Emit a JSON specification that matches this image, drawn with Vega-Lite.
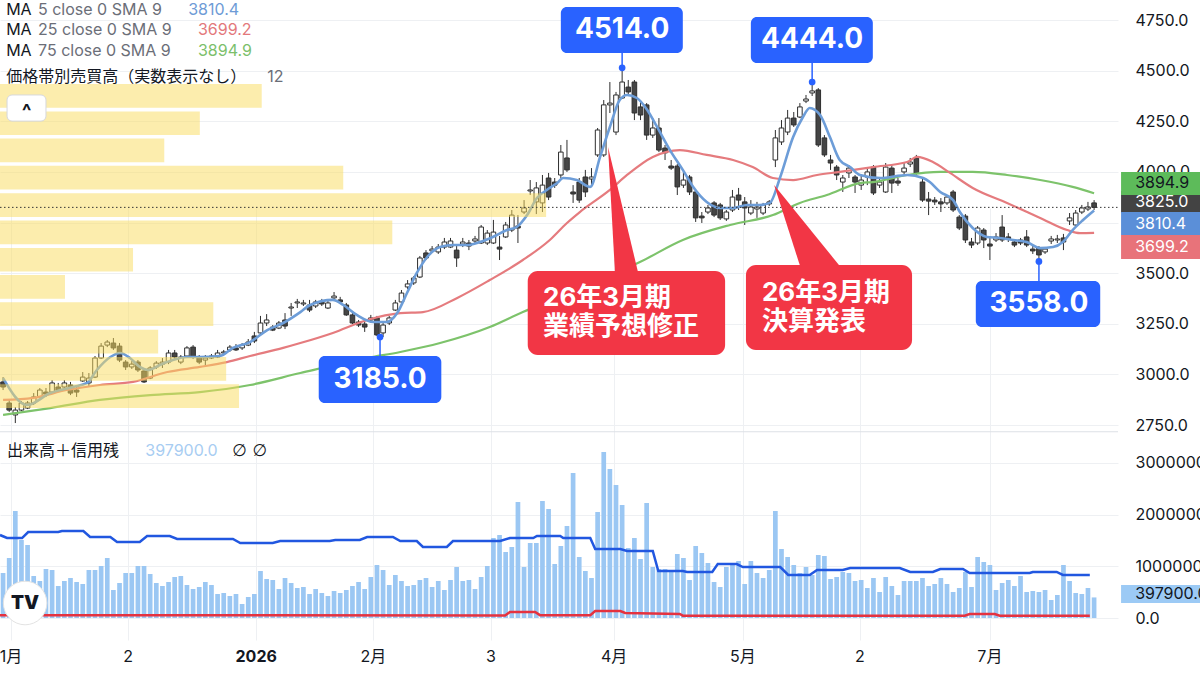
{
"$schema":"https://vega.github.io/schema/vega-lite/v6.json",
"usermeta":{"embedOptions":{"actions":false}},
"width":1118,"height":640,
"autosize":{"type":"none"},
"padding":{"left":0,"top":0,"right":82,"bottom":35},
"background":"#ffffff",
"config":{"view":{"stroke":null},"font":"Inter, 'Noto Sans CJK JP', sans-serif","scale":{"continuousPadding":0}},
"datasets":{
"c":[
{"i":0,"o":2963,"h":2987,"l":2923,"c":2938,"v":870000},
{"i":1,"o":2859,"h":2874,"l":2815,"c":2824,"v":1161000},
{"i":2,"o":2800,"h":2839,"l":2760,"c":2824,"v":2070000},
{"i":3,"o":2824,"h":2869,"l":2819,"c":2859,"v":1509000},
{"i":4,"o":2834,"h":2869,"l":2829,"c":2859,"v":1412000},
{"i":5,"o":2859,"h":2908,"l":2849,"c":2889,"v":812000},
{"i":6,"o":2889,"h":2933,"l":2884,"c":2923,"v":716000},
{"i":7,"o":2913,"h":2933,"l":2889,"c":2903,"v":948000},
{"i":8,"o":2913,"h":2972,"l":2908,"c":2958,"v":928000},
{"i":9,"o":2938,"h":2958,"l":2913,"c":2923,"v":619000},
{"i":10,"o":2938,"h":2972,"l":2928,"c":2958,"v":716000},
{"i":11,"o":2948,"h":2963,"l":2898,"c":2908,"v":774000},
{"i":12,"o":2923,"h":2938,"l":2889,"c":2913,"v":696000},
{"i":13,"o":2968,"h":3012,"l":2963,"c":2987,"v":658000},
{"i":14,"o":2958,"h":3007,"l":2943,"c":2982,"v":928000},
{"i":15,"o":2987,"h":3091,"l":2982,"c":3081,"v":928000},
{"i":16,"o":3081,"h":3155,"l":3076,"c":3140,"v":1006000},
{"i":17,"o":3145,"h":3170,"l":3135,"c":3160,"v":1161000},
{"i":18,"o":3155,"h":3180,"l":3121,"c":3131,"v":542000},
{"i":19,"o":3140,"h":3155,"l":3061,"c":3071,"v":677000},
{"i":20,"o":3061,"h":3071,"l":3022,"c":3037,"v":870000},
{"i":21,"o":3037,"h":3066,"l":3027,"c":3051,"v":870000},
{"i":22,"o":3061,"h":3071,"l":3012,"c":3022,"v":1006000},
{"i":23,"o":3017,"h":3027,"l":2958,"c":2963,"v":1006000},
{"i":24,"o":2982,"h":3041,"l":2977,"c":3032,"v":851000},
{"i":25,"o":3037,"h":3066,"l":3027,"c":3056,"v":677000},
{"i":26,"o":3051,"h":3081,"l":3032,"c":3061,"v":619000},
{"i":27,"o":3061,"h":3121,"l":3051,"c":3106,"v":696000},
{"i":28,"o":3106,"h":3121,"l":3071,"c":3086,"v":793000},
{"i":29,"o":3061,"h":3096,"l":3051,"c":3086,"v":812000},
{"i":30,"o":3091,"h":3140,"l":3081,"c":3131,"v":638000},
{"i":31,"o":3135,"h":3145,"l":3076,"c":3086,"v":561000},
{"i":32,"o":3086,"h":3096,"l":3051,"c":3061,"v":600000},
{"i":33,"o":3071,"h":3096,"l":3041,"c":3081,"v":696000},
{"i":34,"o":3081,"h":3101,"l":3076,"c":3091,"v":638000},
{"i":35,"o":3086,"h":3121,"l":3081,"c":3106,"v":464000},
{"i":36,"o":3106,"h":3121,"l":3096,"c":3111,"v":484000},
{"i":37,"o":3121,"h":3145,"l":3111,"c":3135,"v":426000},
{"i":38,"o":3131,"h":3150,"l":3116,"c":3121,"v":464000},
{"i":39,"o":3131,"h":3155,"l":3121,"c":3145,"v":271000},
{"i":40,"o":3145,"h":3175,"l":3140,"c":3160,"v":406000},
{"i":41,"o":3190,"h":3210,"l":3155,"c":3165,"v":464000},
{"i":42,"o":3205,"h":3289,"l":3195,"c":3254,"v":909000},
{"i":43,"o":3254,"h":3298,"l":3239,"c":3269,"v":754000},
{"i":44,"o":3234,"h":3244,"l":3214,"c":3219,"v":735000},
{"i":45,"o":3229,"h":3264,"l":3224,"c":3254,"v":561000},
{"i":46,"o":3269,"h":3303,"l":3224,"c":3239,"v":774000},
{"i":47,"o":3328,"h":3353,"l":3289,"c":3333,"v":677000},
{"i":48,"o":3353,"h":3373,"l":3328,"c":3358,"v":580000},
{"i":49,"o":3348,"h":3368,"l":3338,"c":3353,"v":600000},
{"i":50,"o":3343,"h":3368,"l":3308,"c":3318,"v":464000},
{"i":51,"o":3338,"h":3368,"l":3328,"c":3358,"v":561000},
{"i":52,"o":3358,"h":3373,"l":3338,"c":3348,"v":484000},
{"i":53,"o":3328,"h":3363,"l":3323,"c":3353,"v":426000},
{"i":54,"o":3378,"h":3407,"l":3368,"c":3387,"v":522000},
{"i":55,"o":3368,"h":3383,"l":3348,"c":3358,"v":484000},
{"i":56,"o":3343,"h":3353,"l":3289,"c":3294,"v":542000},
{"i":57,"o":3294,"h":3303,"l":3249,"c":3254,"v":619000},
{"i":58,"o":3259,"h":3269,"l":3234,"c":3244,"v":696000},
{"i":59,"o":3249,"h":3264,"l":3210,"c":3234,"v":561000},
{"i":60,"o":3269,"h":3294,"l":3259,"c":3279,"v":793000},
{"i":61,"o":3279,"h":3289,"l":3190,"c":3195,"v":1025000},
{"i":62,"o":3205,"h":3259,"l":3185,"c":3244,"v":928000},
{"i":63,"o":3254,"h":3289,"l":3244,"c":3279,"v":638000},
{"i":64,"o":3318,"h":3368,"l":3313,"c":3353,"v":832000},
{"i":65,"o":3358,"h":3417,"l":3353,"c":3402,"v":716000},
{"i":66,"o":3432,"h":3466,"l":3422,"c":3447,"v":619000},
{"i":67,"o":3452,"h":3486,"l":3442,"c":3476,"v":638000},
{"i":68,"o":3481,"h":3585,"l":3476,"c":3575,"v":735000},
{"i":69,"o":3600,"h":3614,"l":3565,"c":3575,"v":774000},
{"i":70,"o":3610,"h":3634,"l":3600,"c":3619,"v":600000},
{"i":71,"o":3605,"h":3644,"l":3595,"c":3629,"v":716000},
{"i":72,"o":3629,"h":3674,"l":3619,"c":3654,"v":542000},
{"i":73,"o":3629,"h":3674,"l":3624,"c":3659,"v":735000},
{"i":74,"o":3614,"h":3639,"l":3531,"c":3575,"v":986000},
{"i":75,"o":3644,"h":3674,"l":3629,"c":3654,"v":716000},
{"i":76,"o":3649,"h":3664,"l":3614,"c":3634,"v":735000},
{"i":77,"o":3659,"h":3684,"l":3649,"c":3669,"v":561000},
{"i":78,"o":3649,"h":3738,"l":3644,"c":3728,"v":793000},
{"i":79,"o":3649,"h":3713,"l":3639,"c":3698,"v":1006000},
{"i":80,"o":3649,"h":3763,"l":3644,"c":3703,"v":1547000},
{"i":81,"o":3629,"h":3684,"l":3565,"c":3619,"v":1605000},
{"i":82,"o":3679,"h":3753,"l":3674,"c":3738,"v":1277000},
{"i":83,"o":3713,"h":3812,"l":3703,"c":3787,"v":1373000},
{"i":84,"o":3733,"h":3787,"l":3649,"c":3723,"v":2244000},
{"i":85,"o":3802,"h":3861,"l":3792,"c":3822,"v":986000},
{"i":86,"o":3906,"h":3960,"l":3886,"c":3911,"v":1451000},
{"i":87,"o":3852,"h":3950,"l":3792,"c":3921,"v":1451000},
{"i":88,"o":3847,"h":3985,"l":3802,"c":3935,"v":2263000},
{"i":89,"o":3970,"h":3995,"l":3861,"c":3876,"v":2108000},
{"i":90,"o":3950,"h":3970,"l":3921,"c":3935,"v":1044000},
{"i":91,"o":3985,"h":4133,"l":3970,"c":4098,"v":1393000},
{"i":92,"o":4069,"h":4158,"l":4000,"c":4010,"v":1779000},
{"i":93,"o":3901,"h":3935,"l":3847,"c":3891,"v":2805000},
{"i":94,"o":3950,"h":3970,"l":3847,"c":3861,"v":1180000},
{"i":95,"o":3975,"h":4010,"l":3876,"c":3901,"v":909000},
{"i":96,"o":3965,"h":4019,"l":3935,"c":3975,"v":774000},
{"i":97,"o":4084,"h":4217,"l":4074,"c":4207,"v":2050000},
{"i":98,"o":4084,"h":4355,"l":4074,"c":4331,"v":3211000},
{"i":99,"o":4331,"h":4444,"l":4291,"c":4340,"v":2882000},
{"i":100,"o":4197,"h":4395,"l":4182,"c":4380,"v":2572000},
{"i":101,"o":4365,"h":4513,"l":4360,"c":4444,"v":2186000},
{"i":102,"o":4419,"h":4454,"l":4380,"c":4395,"v":1354000},
{"i":103,"o":4444,"h":4454,"l":4256,"c":4291,"v":1547000},
{"i":104,"o":4321,"h":4355,"l":4256,"c":4281,"v":1141000},
{"i":105,"o":4331,"h":4340,"l":4158,"c":4182,"v":2224000},
{"i":106,"o":4182,"h":4266,"l":4168,"c":4217,"v":986000},
{"i":107,"o":4217,"h":4266,"l":4098,"c":4108,"v":948000},
{"i":108,"o":4118,"h":4133,"l":4059,"c":4094,"v":948000},
{"i":109,"o":4029,"h":4059,"l":4010,"c":4019,"v":890000},
{"i":110,"o":4029,"h":4039,"l":3886,"c":3926,"v":1238000},
{"i":111,"o":3935,"h":4000,"l":3921,"c":3960,"v":1161000},
{"i":112,"o":3975,"h":3985,"l":3886,"c":3901,"v":735000},
{"i":113,"o":3901,"h":3911,"l":3753,"c":3773,"v":1393000},
{"i":114,"o":3782,"h":3802,"l":3748,"c":3773,"v":1257000},
{"i":115,"o":3802,"h":3837,"l":3792,"c":3822,"v":1064000},
{"i":116,"o":3847,"h":3856,"l":3777,"c":3787,"v":696000},
{"i":117,"o":3837,"h":3847,"l":3763,"c":3773,"v":600000},
{"i":118,"o":3768,"h":3812,"l":3758,"c":3802,"v":986000},
{"i":119,"o":3812,"h":3911,"l":3802,"c":3876,"v":1064000},
{"i":120,"o":3886,"h":3921,"l":3812,"c":3861,"v":1102000},
{"i":121,"o":3852,"h":3876,"l":3738,"c":3822,"v":658000},
{"i":122,"o":3797,"h":3861,"l":3787,"c":3827,"v":1102000},
{"i":123,"o":3817,"h":3852,"l":3773,"c":3827,"v":870000},
{"i":124,"o":3797,"h":3847,"l":3787,"c":3837,"v":774000},
{"i":125,"o":3842,"h":3861,"l":3832,"c":3852,"v":928000},
{"i":126,"o":4059,"h":4207,"l":4024,"c":4168,"v":2070000},
{"i":127,"o":4148,"h":4256,"l":4133,"c":4217,"v":1335000},
{"i":128,"o":4197,"h":4306,"l":4182,"c":4266,"v":1180000},
{"i":129,"o":4266,"h":4296,"l":4222,"c":4232,"v":1025000},
{"i":130,"o":4271,"h":4340,"l":4266,"c":4321,"v":870000},
{"i":131,"o":4350,"h":4380,"l":4340,"c":4360,"v":986000},
{"i":132,"o":4390,"h":4444,"l":4375,"c":4400,"v":832000},
{"i":133,"o":4405,"h":4414,"l":4123,"c":4133,"v":1219000},
{"i":134,"o":4168,"h":4182,"l":4074,"c":4084,"v":1199000},
{"i":135,"o":4059,"h":4084,"l":4010,"c":4044,"v":754000},
{"i":136,"o":4024,"h":4034,"l":3960,"c":3985,"v":793000},
{"i":137,"o":3950,"h":3985,"l":3901,"c":3970,"v":890000},
{"i":138,"o":3995,"h":4034,"l":3970,"c":4019,"v":870000},
{"i":139,"o":3975,"h":3985,"l":3896,"c":3950,"v":716000},
{"i":140,"o":3935,"h":3985,"l":3911,"c":3960,"v":735000},
{"i":141,"o":3975,"h":4019,"l":3935,"c":4000,"v":580000},
{"i":142,"o":4024,"h":4034,"l":3886,"c":3896,"v":774000},
{"i":143,"o":3935,"h":3970,"l":3921,"c":3950,"v":503000},
{"i":144,"o":3901,"h":4044,"l":3896,"c":4024,"v":793000},
{"i":145,"o":4019,"h":4034,"l":3896,"c":3945,"v":619000},
{"i":146,"o":3955,"h":3970,"l":3931,"c":3945,"v":445000},
{"i":147,"o":4000,"h":4044,"l":3985,"c":4019,"v":716000},
{"i":148,"o":4039,"h":4069,"l":4024,"c":4049,"v":716000},
{"i":149,"o":4069,"h":4084,"l":3985,"c":3995,"v":716000},
{"i":150,"o":3950,"h":3970,"l":3852,"c":3861,"v":774000},
{"i":151,"o":3866,"h":3901,"l":3787,"c":3856,"v":619000},
{"i":152,"o":3861,"h":3876,"l":3837,"c":3852,"v":658000},
{"i":153,"o":3852,"h":3871,"l":3802,"c":3842,"v":774000},
{"i":154,"o":3847,"h":3886,"l":3837,"c":3876,"v":658000},
{"i":155,"o":3901,"h":3911,"l":3802,"c":3812,"v":503000},
{"i":156,"o":3777,"h":3787,"l":3713,"c":3723,"v":580000},
{"i":157,"o":3782,"h":3792,"l":3649,"c":3664,"v":890000},
{"i":158,"o":3654,"h":3674,"l":3624,"c":3639,"v":600000},
{"i":159,"o":3649,"h":3733,"l":3639,"c":3723,"v":1180000},
{"i":160,"o":3713,"h":3723,"l":3624,"c":3664,"v":1083000},
{"i":161,"o":3644,"h":3674,"l":3565,"c":3634,"v":1025000},
{"i":162,"o":3664,"h":3698,"l":3654,"c":3679,"v":542000},
{"i":163,"o":3728,"h":3787,"l":3654,"c":3664,"v":677000},
{"i":164,"o":3679,"h":3698,"l":3654,"c":3669,"v":735000},
{"i":165,"o":3654,"h":3664,"l":3629,"c":3639,"v":619000},
{"i":166,"o":3664,"h":3674,"l":3639,"c":3649,"v":812000},
{"i":167,"o":3679,"h":3713,"l":3629,"c":3639,"v":503000},
{"i":168,"o":3619,"h":3634,"l":3595,"c":3610,"v":522000},
{"i":169,"o":3624,"h":3634,"l":3558,"c":3590,"v":503000},
{"i":170,"o":3605,"h":3629,"l":3595,"c":3619,"v":542000},
{"i":171,"o":3659,"h":3684,"l":3644,"c":3669,"v":348000},
{"i":172,"o":3664,"h":3689,"l":3649,"c":3669,"v":445000},
{"i":173,"o":3674,"h":3694,"l":3614,"c":3654,"v":1025000},
{"i":174,"o":3758,"h":3797,"l":3738,"c":3773,"v":716000},
{"i":175,"o":3738,"h":3812,"l":3728,"c":3797,"v":484000},
{"i":176,"o":3802,"h":3837,"l":3792,"c":3822,"v":464000},
{"i":177,"o":3817,"h":3852,"l":3807,"c":3827,"v":580000},
{"i":178,"o":3847,"h":3861,"l":3812,"c":3825,"v":397900}
],
"ma5":[{"i":0,"v":2982},{"i":3.9,"v":2849},{"i":7.7,"v":2908},{"i":11.4,"v":2938},{"i":13.7,"v":2958},{"i":15.3,"v":3022},{"i":17.5,"v":3086},{"i":19.1,"v":3106},{"i":20.7,"v":3081},{"i":22.3,"v":3037},{"i":23.7,"v":3022},{"i":25.6,"v":3047},{"i":27.7,"v":3071},{"i":30,"v":3086},{"i":32.1,"v":3086},{"i":35.4,"v":3091},{"i":37.5,"v":3131},{"i":40.3,"v":3160},{"i":43.1,"v":3219},{"i":45.7,"v":3254},{"i":48.5,"v":3308},{"i":50.1,"v":3343},{"i":53.8,"v":3368},{"i":55.5,"v":3343},{"i":57.7,"v":3294},{"i":60.4,"v":3259},{"i":62.6,"v":3259},{"i":64.3,"v":3303},{"i":65.9,"v":3402},{"i":67.5,"v":3501},{"i":69.2,"v":3580},{"i":71.3,"v":3629},{"i":73.4,"v":3639},{"i":75.7,"v":3639},{"i":77.8,"v":3654},{"i":79.9,"v":3679},{"i":82.2,"v":3713},{"i":83.8,"v":3728},{"i":85.5,"v":3787},{"i":87.1,"v":3871},{"i":88.7,"v":3911},{"i":90.4,"v":3945},{"i":91.4,"v":3970},{"i":93.6,"v":3960},{"i":95.8,"v":3926},{"i":97.4,"v":4074},{"i":99,"v":4222},{"i":100.6,"v":4355},{"i":101.8,"v":4380},{"i":103.4,"v":4365},{"i":105.1,"v":4306},{"i":106.7,"v":4222},{"i":108.8,"v":4108},{"i":110.9,"v":4010},{"i":112.6,"v":3926},{"i":114.8,"v":3852},{"i":117,"v":3822},{"i":119.1,"v":3822},{"i":121.4,"v":3837},{"i":123.5,"v":3837},{"i":125.1,"v":3847},{"i":126.8,"v":3975},{"i":128.9,"v":4172},{"i":130.5,"v":4271},{"i":131.6,"v":4316},{"i":133.3,"v":4281},{"i":134.9,"v":4172},{"i":136.5,"v":4059},{"i":138.2,"v":4024},{"i":139.8,"v":3985},{"i":143.1,"v":3970},{"i":147.5,"v":3985},{"i":150.1,"v":3970},{"i":151.2,"v":3950},{"i":152.9,"v":3901},{"i":155,"v":3861},{"i":156.1,"v":3802},{"i":158.2,"v":3723},{"i":160.5,"v":3679},{"i":162.6,"v":3674},{"i":164.8,"v":3664},{"i":167,"v":3654},{"i":169.2,"v":3624},{"i":171.3,"v":3629},{"i":172.9,"v":3654},{"i":174.5,"v":3713},{"i":176.2,"v":3763},{"i":178,"v":3810}],
"ma25":[{"i":0,"v":2874},{"i":4.9,"v":2884},{"i":10.4,"v":2923},{"i":15.8,"v":2948},{"i":21.2,"v":2963},{"i":26.8,"v":3012},{"i":32.1,"v":3037},{"i":36.5,"v":3061},{"i":40.3,"v":3091},{"i":45.7,"v":3131},{"i":48.5,"v":3155},{"i":53.8,"v":3205},{"i":59.4,"v":3269},{"i":64.8,"v":3303},{"i":68.5,"v":3308},{"i":74.1,"v":3378},{"i":79.4,"v":3466},{"i":84.8,"v":3565},{"i":89.2,"v":3664},{"i":92,"v":3748},{"i":94.1,"v":3802},{"i":99,"v":3911},{"i":101.8,"v":3985},{"i":106,"v":4074},{"i":110.4,"v":4108},{"i":114.8,"v":4084},{"i":119.1,"v":4059},{"i":122.3,"v":4024},{"i":125.6,"v":3970},{"i":128.9,"v":3960},{"i":132.8,"v":3985},{"i":136.5,"v":4000},{"i":141.9,"v":4024},{"i":147.5,"v":4049},{"i":149.1,"v":4074},{"i":151.7,"v":4049},{"i":154.5,"v":3995},{"i":158.2,"v":3921},{"i":163.8,"v":3847},{"i":169.2,"v":3773},{"i":173.6,"v":3713},{"i":175.7,"v":3698},{"i":178,"v":3699}],
"ma75":[{"i":0,"v":2800},{"i":7.7,"v":2834},{"i":15.8,"v":2874},{"i":24,"v":2898},{"i":32.1,"v":2913},{"i":40.3,"v":2948},{"i":48.5,"v":3007},{"i":59.4,"v":3081},{"i":64.8,"v":3111},{"i":71.3,"v":3155},{"i":79.4,"v":3234},{"i":84.8,"v":3308},{"i":90.9,"v":3382},{"i":97.4,"v":3466},{"i":103.9,"v":3555},{"i":110.9,"v":3664},{"i":118.6,"v":3738},{"i":125.6,"v":3787},{"i":130,"v":3847},{"i":134.4,"v":3886},{"i":139.8,"v":3945},{"i":141.9,"v":3950},{"i":147.5,"v":3985},{"i":152.9,"v":4000},{"i":158.2,"v":4000},{"i":163.8,"v":3985},{"i":169.2,"v":3960},{"i":174.5,"v":3926},{"i":178,"v":3895}],
"buy":[{"i":-0.5,"v":1605000},{"i":0.65,"v":1547000},{"i":3.1,"v":1547000},{"i":4.1,"v":1663000},{"i":9.0,"v":1663000},{"i":9.6,"v":1683000},{"i":13.1,"v":1683000},{"i":14.2,"v":1567000},{"i":17.5,"v":1567000},{"i":18.6,"v":1470000},{"i":22.3,"v":1470000},{"i":23.5,"v":1586000},{"i":27.2,"v":1586000},{"i":28.4,"v":1528000},{"i":37.5,"v":1528000},{"i":38.7,"v":1451000},{"i":44.0,"v":1451000},{"i":45.2,"v":1489000},{"i":53.3,"v":1489000},{"i":54.2,"v":1509000},{"i":58.2,"v":1509000},{"i":59.4,"v":1567000},{"i":63.6,"v":1567000},{"i":64.8,"v":1489000},{"i":67.5,"v":1489000},{"i":68.5,"v":1373000},{"i":72.4,"v":1373000},{"i":73.4,"v":1489000},{"i":81.1,"v":1489000},{"i":82.7,"v":1547000},{"i":86.5,"v":1547000},{"i":87.1,"v":1586000},{"i":90.9,"v":1586000},{"i":91.4,"v":1547000},{"i":95.8,"v":1547000},{"i":96.6,"v":1335000},{"i":100.7,"v":1335000},{"i":101.8,"v":1296000},{"i":106.0,"v":1296000},{"i":106.9,"v":909000},{"i":110.9,"v":909000},{"i":111.6,"v":890000},{"i":115.7,"v":890000},{"i":116.6,"v":1044000},{"i":119.7,"v":1044000},{"i":120.7,"v":986000},{"i":126.8,"v":986000},{"i":128.1,"v":832000},{"i":131.6,"v":832000},{"i":132.8,"v":928000},{"i":137.0,"v":928000},{"i":138.2,"v":967000},{"i":146.3,"v":967000},{"i":148.0,"v":890000},{"i":151.7,"v":890000},{"i":152.9,"v":948000},{"i":156.6,"v":948000},{"i":157.7,"v":870000},{"i":167.5,"v":870000},{"i":168.0,"v":890000},{"i":171.9,"v":890000},{"i":172.9,"v":832000},{"i":177.3,"v":832000}],
"sell":[{"i":-0.5,"v":55000},{"i":81.9,"v":50000},{"i":82.7,"v":116000},{"i":86.8,"v":116000},{"i":87.6,"v":55000},{"i":95.8,"v":55000},{"i":96.6,"v":135000},{"i":100.7,"v":135000},{"i":101.5,"v":97000},{"i":110.4,"v":77000},{"i":110.9,"v":45000},{"i":156.9,"v":45000},{"i":157.7,"v":77000},{"i":161.8,"v":77000},{"i":162.6,"v":45000},{"i":177.3,"v":45000}],
"vp":[{"lo":4317,"hi":4434,"w":42.2},{"lo":4182,"hi":4299,"w":32.1},{"lo":4048,"hi":4165,"w":26.3},{"lo":3913,"hi":4030,"w":55.5},{"lo":3778,"hi":3895,"w":88.6},{"lo":3643,"hi":3760,"w":63.5},{"lo":3508,"hi":3625,"w":21.2},{"lo":3374,"hi":3491,"w":10.1},{"lo":3239,"hi":3356,"w":34.3},{"lo":3104,"hi":3221,"w":25.3},{"lo":2969,"hi":3086,"w":36.4},{"lo":2834,"hi":2951,"w":38.5}],
"ann":[{"i":101,"p":4514,"b1":91.0,"b2":110.9,"bt":4814,"bb":4587,"lk":4587,"ty":4701,"t":"4514.0"},{"i":132,"p":4444,"b1":122.0,"b2":141.9,"bt":4765,"bb":4538,"lk":4538,"ty":4651,"t":"4444.0"},{"i":61.5,"p":3185,"b1":51.5,"b2":71.5,"bt":3091,"bb":2859,"lk":3091,"ty":2973,"t":"3185.0"},{"i":169,"p":3558,"b1":158.7,"b2":179.0,"bt":3461,"bb":3234,"lk":3461,"ty":3348,"t":"3558.0"}],
"wedge":[{"g":1,"p":4123,"a":98.7,"b":98.7},{"g":1,"p":3466,"a":99.9,"b":103.9},{"g":2,"p":3935,"a":125.8,"b":125.8},{"g":2,"p":3491,"a":130.5,"b":137.7}],
"co":[{"x1":85.6,"x2":117.8,"y1":3511,"y2":3096},{"x1":121.2,"x2":148.3,"y1":3540,"y2":3121}],
"cot":[{"x":88.1,"y":3377,"t":"26年3月期"},{"x":88.1,"y":3234,"t":"業績予想修正"},{"x":123.8,"y":3402,"t":"26年3月期"},{"x":123.8,"y":3259,"t":"決算発表"}],
"lg":[{"x":0.5,"y":4802,"t":"MA","k":"b"},{"x":5.7,"y":4802,"t":"5 close 0 SMA 9","k":"g"},{"x":30.2,"y":4802,"t":"3810.4","k":"ma5"},{"x":0.5,"y":4703,"t":"MA","k":"b"},{"x":5.7,"y":4703,"t":"25 close 0 SMA 9","k":"g"},{"x":31.8,"y":4703,"t":"3699.2","k":"ma25"},{"x":0.5,"y":4597,"t":"MA","k":"b"},{"x":5.7,"y":4597,"t":"75 close 0 SMA 9","k":"g"},{"x":31.8,"y":4597,"t":"3894.9","k":"ma75"},{"x":0.5,"y":4469,"t":"価格帯別売買高（実数表示なし）","k":"b"},{"x":43.1,"y":4469,"t":"12","k":"g"}],
"pl":[{"k":"last","t":"3825.0","y1":3906,"y2":3797,"ty":3852},{"k":"ma75","t":"3894.9","y1":4000,"y2":3886,"ty":3943},{"k":"ma5","t":"3810.4","y1":3802,"y2":3689,"ty":3745},{"k":"ma25","t":"3699.2","y1":3689,"y2":3570,"ty":3629}],
"vlg":[{"x":0.65,"y":3230100,"t":"出来高＋信用残","k":"b"},{"x":23.2,"y":3230100,"t":"397900.0","k":"v"}],
"xl":[{"i":1.3,"t":"1月"},{"i":20.4,"t":"2"},{"i":41.3,"t":"2026"},{"i":60.4,"t":"2月"},{"i":79.6,"t":"3"},{"i":99.7,"t":"4月"},{"i":120.7,"t":"5月"},{"i":139.8,"t":"2"},{"i":161,"t":"7月"}]
},
"layer":[
{"layer":[
{"data":{"name":"c"},"mark":{"type":"rule","color":"#2e2e2e","strokeWidth":1},
 "encoding":{
  "x":{"field":"i","type":"quantitative","scale":{"domain":[-0.5,181.9],"nice":false,"zero":false,"padding":0},
   "axis":{"values":[1.3,20.4,41.3,60.4,79.6,99.7,120.7,139.8,161],"labels":false,"title":null,"ticks":false,"domain":false,"grid":true,"gridColor":"#EEF0F3"}},
  "y":{"field":"l","type":"quantitative","scale":{"domain":[2715.8,4849],"range":[432,0],"nice":false,"zero":false,"padding":0},
   "axis":{"orient":"right","values":[2750,3000,3250,3500,3750,4000,4250,4500,4750],"format":".1f","title":null,"ticks":false,"domain":false,"grid":true,"gridColor":"#EEF0F3","labelFontSize":16,"labelColor":"#131722","labelPadding":17,"labelFlush":false,"labelOverlap":false}},
  "y2":{"field":"h"}}},
{"data":{"name":"c"},"mark":{"type":"bar","width":4.6,"stroke":"#2e2e2e","strokeWidth":1},
 "encoding":{"x":{"field":"i","type":"quantitative"},"y":{"field":"o","type":"quantitative"},"y2":{"field":"c"},
  "fill":{"condition":{"test":"datum.c >= datum.o","value":"#ffffff"},"value":"#454545"}}},
{"data":{"name":"ma75"},"mark":{"type":"line","color":"#7DC36B","strokeWidth":2.2,"interpolate":"monotone"},"encoding":{"x":{"field":"i","type":"quantitative"},"y":{"field":"v","type":"quantitative"}}},
{"data":{"name":"ma25"},"mark":{"type":"line","color":"#E57B7E","strokeWidth":2.2,"interpolate":"monotone"},"encoding":{"x":{"field":"i","type":"quantitative"},"y":{"field":"v","type":"quantitative"}}},
{"data":{"name":"ma5"},"mark":{"type":"line","color":"#6D9DD8","strokeWidth":2.6,"interpolate":"monotone"},"encoding":{"x":{"field":"i","type":"quantitative"},"y":{"field":"v","type":"quantitative"}}},
{"data":{"name":"vp"},"mark":{"type":"rect","color":"#F9DC5C","opacity":0.5},"encoding":{"x":{"field":"w","type":"quantitative"},"x2":{"datum":-0.5},"y":{"field":"lo","type":"quantitative"},"y2":{"field":"hi"}}},
{"data":{"values":[{"a":-0.5,"b":181.9,"p":3825}]},"mark":{"type":"rule","color":"#333333","strokeWidth":1,"strokeDash":[1.5,2.5]},"encoding":{"x":{"field":"a","type":"quantitative"},"x2":{"field":"b"},"y":{"field":"p","type":"quantitative"}}},
{"data":{"values":[{"a":-0.5,"b":181.9,"p":2717}]},"mark":{"type":"rule","color":"#DDE0E6","strokeWidth":1},"encoding":{"x":{"field":"a","type":"quantitative"},"x2":{"field":"b"},"y":{"field":"p","type":"quantitative"}}},
{"data":{"name":"ann"},"mark":{"type":"rule","color":"#2962FF","strokeWidth":1.5},"encoding":{"x":{"field":"i","type":"quantitative"},"y":{"field":"p","type":"quantitative"},"y2":{"field":"lk"}}},
{"data":{"name":"ann"},"mark":{"type":"point","filled":true,"color":"#2962FF","size":45,"opacity":1},"encoding":{"x":{"field":"i","type":"quantitative"},"y":{"field":"p","type":"quantitative"}}},
{"data":{"name":"ann"},"mark":{"type":"rect","color":"#2962FF","cornerRadius":6},"encoding":{"x":{"field":"b1","type":"quantitative"},"x2":{"field":"b2"},"y":{"field":"bt","type":"quantitative"},"y2":{"field":"bb"}}},
{"data":{"name":"ann"},"mark":{"type":"text","color":"#ffffff","fontSize":28,"fontWeight":"bold","align":"center","baseline":"middle"},"encoding":{"x":{"field":"i","type":"quantitative"},"y":{"field":"ty","type":"quantitative"},"text":{"field":"t","type":"nominal"}}},
{"data":{"name":"wedge"},"mark":{"type":"area","orient":"horizontal","color":"#F23645","opacity":1},"encoding":{"y":{"field":"p","type":"quantitative"},"x":{"field":"a","type":"quantitative"},"x2":{"field":"b"},"detail":{"field":"g","type":"nominal"}}},
{"data":{"name":"co"},"mark":{"type":"rect","color":"#F23645","cornerRadius":10},"encoding":{"x":{"field":"x1","type":"quantitative"},"x2":{"field":"x2"},"y":{"field":"y1","type":"quantitative"},"y2":{"field":"y2"}}},
{"data":{"name":"cot"},"mark":{"type":"text","color":"#ffffff","fontSize":26,"fontWeight":"bold","align":"left","baseline":"middle"},"encoding":{"x":{"field":"x","type":"quantitative"},"y":{"field":"y","type":"quantitative"},"text":{"field":"t","type":"nominal"}}},
{"data":{"name":"lg"},"mark":{"type":"text","fontSize":16,"align":"left","baseline":"middle"},"encoding":{"x":{"field":"x","type":"quantitative"},"y":{"field":"y","type":"quantitative"},"text":{"field":"t","type":"nominal"},
  "color":{"condition":[{"test":"datum.k=='b'","value":"#131722"},{"test":"datum.k=='g'","value":"#6B6E78"},{"test":"datum.k=='ma5'","value":"#6E9BD6"},{"test":"datum.k=='ma25'","value":"#E3787B"}],"value":"#7CBF6B"}}},
{"data":{"values":[{"a":0.65,"b":7.0,"p1":4380,"p2":4251}]},"mark":{"type":"rect","fill":"#ffffff","stroke":"#D6D8DE","strokeWidth":1,"cornerRadius":5},"encoding":{"x":{"field":"a","type":"quantitative"},"x2":{"field":"b"},"y":{"field":"p1","type":"quantitative"},"y2":{"field":"p2"}}},
{"data":{"values":[{"a":3.83,"p":4316,"t":"^"}]},"mark":{"type":"text","fontSize":20,"fontWeight":"bold","color":"#131722","align":"center","baseline":"middle","dy":4},"encoding":{"x":{"field":"a","type":"quantitative"},"y":{"field":"p","type":"quantitative"},"text":{"field":"t","type":"nominal"}}},
{"data":{"name":"pl"},"mark":{"type":"rect"},"encoding":{"x":{"datum":182.4,"type":"quantitative"},"x2":{"datum":197},"y":{"field":"y1","type":"quantitative"},"y2":{"field":"y2"},
  "fill":{"condition":[{"test":"datum.k=='last'","value":"#434343"},{"test":"datum.k=='ma75'","value":"#5DBB5A"},{"test":"datum.k=='ma5'","value":"#5B8FD8"}],"value":"#E8737A"}}},
{"data":{"name":"pl"},"mark":{"type":"text","fontSize":16,"align":"left","baseline":"middle"},"encoding":{"x":{"datum":184.7,"type":"quantitative"},"y":{"field":"ty","type":"quantitative"},"text":{"field":"t","type":"nominal"},
  "color":{"condition":{"test":"datum.k=='ma75'","value":"#131722"},"value":"#ffffff"}}}
]},
{"layer":[
{"data":{"name":"c"},"mark":{"type":"bar","width":4.7,"color":"#9BC7F3"},
 "encoding":{"x":{"field":"i","type":"quantitative"},
  "y":{"field":"v","type":"quantitative","scale":{"domain":[-425500,3597600],"range":[640,432],"nice":false,"zero":false,"padding":0},
   "axis":{"orient":"right","values":[0,1000000,2000000,3000000],"format":".1f","title":null,"ticks":false,"domain":false,"grid":true,"gridColor":"#EEF0F3","labelFontSize":16,"labelColor":"#131722","labelPadding":17,"labelFlush":false,"labelOverlap":false}},
  "y2":{"datum":0}}},
{"data":{"name":"buy"},"mark":{"type":"line","color":"#2157E0","strokeWidth":2.5},"encoding":{"x":{"field":"i","type":"quantitative"},"y":{"field":"v","type":"quantitative"}}},
{"data":{"name":"sell"},"mark":{"type":"line","color":"#E5323F","strokeWidth":2.5},"encoding":{"x":{"field":"i","type":"quantitative"},"y":{"field":"v","type":"quantitative"}}},
{"data":{"name":"vlg"},"mark":{"type":"text","fontSize":16,"align":"left","baseline":"middle"},"encoding":{"x":{"field":"x","type":"quantitative"},"y":{"field":"y","type":"quantitative"},"text":{"field":"t","type":"nominal"},
  "color":{"condition":{"test":"datum.k=='v'","value":"#A8CDF2"},"value":"#131722"}}},
{"data":{"values":[{"x":37.4,"y":3230100,"t":"∅ ∅"}]},"mark":{"type":"text","fontSize":17,"font":"DejaVu Sans","color":"#131722","align":"left","baseline":"middle"},"encoding":{"x":{"field":"x","type":"quantitative"},"y":{"field":"y","type":"quantitative"},"text":{"field":"t","type":"nominal"}}},
{"data":{"values":[{"a":182.4,"b":197,"p1":638300,"p2":290100}]},"mark":{"type":"rect","fill":"#9CCAF5"},"encoding":{"x":{"field":"a","type":"quantitative"},"x2":{"field":"b"},"y":{"field":"p1","type":"quantitative"},"y2":{"field":"p2"}}},
{"data":{"values":[{"a":184.7,"p":464200,"t":"397900.0"}]},"mark":{"type":"text","fontSize":16,"color":"#131722","align":"left","baseline":"middle"},"encoding":{"x":{"field":"a","type":"quantitative"},"y":{"field":"p","type":"quantitative"},"text":{"field":"t","type":"nominal"}}},
{"data":{"values":[{"a":3.6,"p":290100}]},"mark":{"type":"point","shape":"circle","filled":true,"fill":"#ffffff","stroke":"#E3E3E3","strokeWidth":1,"size":1900,"opacity":1},"encoding":{"x":{"field":"a","type":"quantitative"},"y":{"field":"p","type":"quantitative"}}},
{"data":{"values":[{"a":3.6,"p":290100,"t":"TV"}]},"mark":{"type":"text","fontSize":19,"fontWeight":900,"color":"#131722","align":"center","baseline":"middle"},"encoding":{"x":{"field":"a","type":"quantitative"},"y":{"field":"p","type":"quantitative"},"text":{"field":"t","type":"nominal"}}},
{"data":{"name":"xl"},"transform":[{"filter":"datum.t != '2026'"}],"mark":{"type":"text","fontSize":16,"color":"#131722","align":"center","baseline":"middle"},"encoding":{"x":{"field":"i","type":"quantitative"},"y":{"datum":-754300,"type":"quantitative"},"text":{"field":"t","type":"nominal"}}},
{"data":{"name":"xl"},"transform":[{"filter":"datum.t == '2026'"}],"mark":{"type":"text","fontSize":16,"fontWeight":"bold","color":"#131722","align":"center","baseline":"middle"},"encoding":{"x":{"field":"i","type":"quantitative"},"y":{"datum":-754300,"type":"quantitative"},"text":{"field":"t","type":"nominal"}}}
]}
],
"resolve":{"scale":{"y":"independent"}}
}
